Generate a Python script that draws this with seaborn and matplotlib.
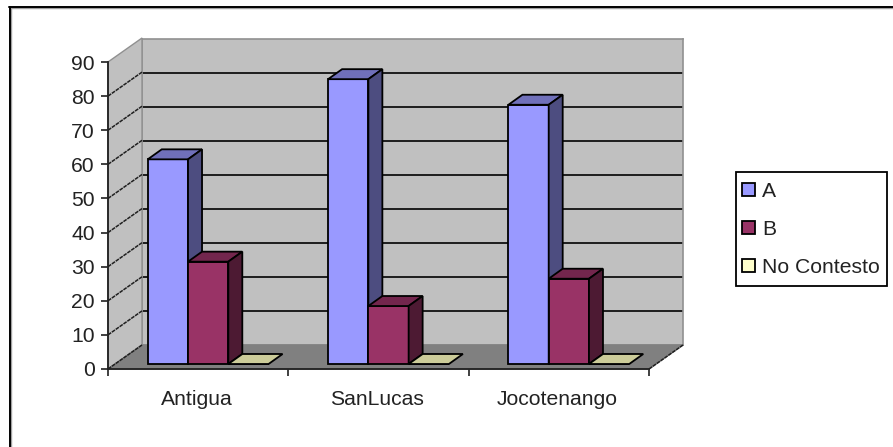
import matplotlib
matplotlib.use("Agg")
import matplotlib.pyplot as plt
from matplotlib.lines import Line2D
from matplotlib.patches import Polygon, Rectangle
import pandas as pd
import seaborn as sns

places = ["Antigua", "SanLucas", "Jocotenango"]
series = ["A", "B", "No Contesto"]
val_a = [60, 83.5, 76]
val_b = [30, 17, 25]
val_nc = [0, 0, 0]
yticks = list(range(0, 100, 10))
front_cols = ["#9999FF", "#993366", "#FFFFCC"]
top_cols = ["#7070BA", "#73264D", "#CCCC99"]
side_cols = ["#4D4D80", "#4D1A33", "#808066"]

W, H = 893, 447
FS = 15.2
sns.set_style("white")
plt.rcParams["font.family"] = ["Liberation Sans", "DejaVu Sans"]
fig = plt.figure(figsize=(W / 100, H / 100), dpi=100, facecolor="white")


def place(left, base, width, height, **kw):
    return fig.add_axes([left / W, (H - base) / H, width / W, height / H], **kw)


AX_W, AX_H = 541, 307
# frame of the chart area: only its top and left edges fall inside the picture
for xs, ys, col, lw in [([10.5, 10.5], [8, H], "#A0A0A0", 1.0), ([10, W], [8, 8], "#A0A0A0", 1.0),
                        ([9.5, 9.5], [7, H], "black", 1.4), ([9, W], [6.8, 6.8], "black", 1.4)]:
    fig.add_artist(Line2D([x / W for x in xs], [(H - y) / H for y in ys],
                          transform=fig.transFigure, color=col, lw=lw))

# back wall
wall = place(142, 345, AX_W, AX_H - 1, zorder=1)
wall.set_facecolor("#C0C0C0")
wall.set_xlim(-0.5, 2.5)
wall.set_ylim(0, 90)
wall.set_xticks([])
wall.set_yticks(yticks[1:-1])
wall.tick_params(left=False, labelleft=False)
wall.grid(axis="y", color="#101010", lw=1.3)
for s in wall.spines.values():
    s.set_color("#909090")
    s.set_linewidth(1.2)

# front plane: axes, side wall and floor
ax = place(108, 369, AX_W, AX_H, zorder=2)
ax.patch.set_alpha(0)
ax.set_xlim(-0.5, 2.5)
ax.set_ylim(0, 90)
ddx = 34 / (AX_W / 3)
ddy = 24 / (AX_H / 90)
ax.add_patch(Polygon([(-0.5, 0), (-0.5 + ddx, ddy), (-0.5 + ddx, 90 + ddy), (-0.5, 90)],
                     fc="#C0C0C0", ec="#909090", lw=1, clip_on=False))
ax.add_patch(Polygon([(-0.5, 0), (-0.5 + ddx, ddy), (2.5 + ddx, ddy), (2.5, 0)],
                     fc="#808080", ec="#808080", lw=1, clip_on=False))
for t in yticks[:-1]:
    ax.plot([-0.5, -0.5 + ddx], [t, t + ddy], color="#202020", lw=1.1, ls=(0, (2.5, 0.6)), clip_on=False)
ax.plot([2.5, 2.5 + ddx], [0, ddy], color="#202020", lw=1.1, ls=(0, (2.5, 0.6)), clip_on=False)
for side in ("top", "right"):
    ax.spines[side].set_visible(False)
for side in ("left", "bottom"):
    ax.spines[side].set_color("#202020")
    ax.spines[side].set_linewidth(1.3)
ax.set_yticks(yticks)
ax.set_xticks([-0.5, 0.5, 1.5, 2.5])
ax.set_xticklabels([])
ax.set_xticks([-0.01, 0.99, 1.99], labels=places, minor=True)
ax.tick_params(axis="x", which="major", bottom=True, length=5, width=1.2, color="#202020")
ax.tick_params(axis="x", which="minor", bottom=False, length=0, pad=15, labelsize=FS, labelcolor="#222222")
ax.tick_params(axis="y", left=True, length=5, width=1.2, color="#202020", labelsize=FS, labelcolor="#222222", pad=4.5)

# bars
bars = place(118, 364, AX_W, AX_H, zorder=3)
bars.patch.set_alpha(0)
df = pd.DataFrame({
    "place": places * 3,
    "serie": [series[0]] * 3 + [series[1]] * 3 + [series[2]] * 3,
    "value": val_a + val_b + val_nc,
})
sns.barplot(data=df, x="place", y="value", hue="serie", order=places, hue_order=series,
            palette=front_cols, width=0.67, gap=0, saturation=1, ax=bars,
            edgecolor="black", linewidth=1.3, legend=True)
bars.set_xlim(-0.5, 2.5)
bars.set_ylim(0, 90)
bars.set_xticks([])
bars.set_yticks([])
bars.set_xlabel("")
bars.set_ylabel("")
for s in bars.spines.values():
    s.set_visible(False)

bdx = 14 / (AX_W / 3)
bdy = 10 / (AX_H / 90)
for i, cont in enumerate(bars.containers):
    z = 3 + 2 * i
    for b in cont:
        b.set_zorder(z)
        b.set_clip_on(False)
        x0, w, h = b.get_x(), b.get_width(), b.get_height()
        x1 = x0 + w
        bars.add_patch(Polygon([(x0, h), (x0 + bdx, h + bdy), (x1 + bdx, h + bdy), (x1, h)],
                               fc=top_cols[i], ec="black", lw=1.3, zorder=z, clip_on=False))
        if h > 0:
            bars.add_patch(Polygon([(x1, 0), (x1 + bdx, bdy), (x1 + bdx, h + bdy), (x1, h)],
                                   fc=side_cols[i], ec="black", lw=1.3, zorder=z, clip_on=False))

handles, labels = bars.get_legend_handles_labels()
bars.get_legend().remove()
fig.add_artist(Rectangle((735.5 / W, (H - 286) / H), 151.5 / W, 114 / H, transform=fig.transFigure,
                         fc="white", ec="black", lw=1.3, zorder=10))
leg = fig.legend(handles, labels, loc="upper left",
                 bbox_to_anchor=(735 / W, (H - 175) / H), bbox_transform=fig.transFigure,
                 frameon=False, fontsize=FS,
                 handlelength=0.62, handleheight=0.62, handletextpad=0.33,
                 labelspacing=0.9, borderaxespad=0, borderpad=0.33, labelcolor="#222222")
leg.set_zorder(20)

fig.savefig("out.png", dpi=100)
